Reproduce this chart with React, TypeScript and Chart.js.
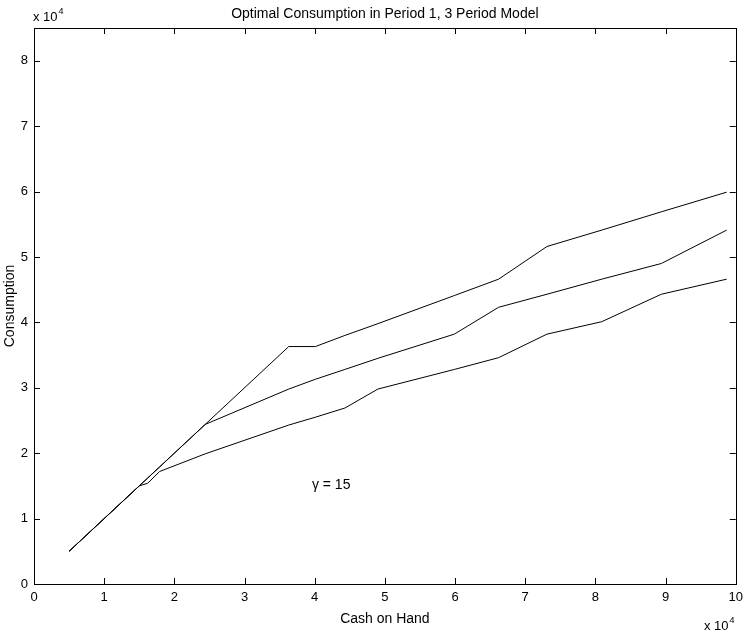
import React, { useEffect, useRef } from "react";
import { Chart, registerables } from "chart.js";

Chart.register(...registerables);

// Cash on hand grid (x 10^4)
const cashOnHand = [0.5, 1.5, 1.62, 1.79, 2.44, 3.63, 4.01, 4.43, 4.9, 5.99, 6.62, 7.31, 8.09, 8.94, 9.87];
// Consumption (x 10^4) for three curves
const consumptionTop = [0.5, 1.5, 1.62, 1.79, 2.44, 3.63, 3.63, 3.8, 3.98, 4.41, 4.66, 5.16, 5.41, 5.69, 5.99];
const consumptionMid = [0.5, 1.5, 1.62, 1.79, 2.44, 2.98, 3.13, 3.28, 3.45, 3.82, 4.23, 4.43, 4.66, 4.9, 5.41];
const consumptionLow = [0.5, 1.5, 1.54, 1.72, 1.99, 2.43, 2.55, 2.69, 2.98, 3.28, 3.46, 3.82, 4.01, 4.43, 4.66];

const xTicks = [0, 1, 2, 3, 4, 5, 6, 7, 8, 9, 10];
const yTicks = [0, 1, 2, 3, 4, 5, 6, 7, 8];

const titleText = "Optimal Consumption in Period 1, 3 Period Model";
const xLabel = "Cash on Hand";
const yLabel = "Consumption";
const annotationText = "\u03b3 = 15";
const annotationPos = { x: 3.96, y: 1.45 };

const FONT = "'Liberation Sans', Arial, Helvetica, sans-serif";

const toPoints = (ys: number[]) => cashOnHand.map((x, i) => ({ x, y: ys[i] }));

const drawExponent = (ctx: any, x: number, y: number) => {
  ctx.font = `13px ${FONT}`;
  ctx.fillText("x 10", x, y);
  const w = ctx.measureText("x 10").width;
  ctx.font = `9px ${FONT}`;
  ctx.fillText("4", x + w + 1, y - 7);
};

const decorPlugin = {
  id: "decor",
  afterDraw(chart: any) {
    const { ctx, chartArea } = chart;
    const xs = chart.scales.x;
    const ys = chart.scales.y;
    const { left, right, top, bottom } = chartArea;
    ctx.save();
    ctx.strokeStyle = "#000";
    ctx.lineWidth = 1;
    // box
    ctx.strokeRect(Math.round(left) + 0.5, Math.round(top) + 0.5, Math.round(right - left), Math.round(bottom - top));
    // inward ticks
    const tl = 6;
    ctx.beginPath();
    xTicks.forEach((v) => {
      const px = Math.round(xs.getPixelForValue(v)) + 0.5;
      ctx.moveTo(px, bottom);
      ctx.lineTo(px, bottom - tl);
      ctx.moveTo(px, top);
      ctx.lineTo(px, top + tl);
    });
    yTicks.forEach((v) => {
      const py = Math.round(ys.getPixelForValue(v)) + 0.5;
      ctx.moveTo(left, py);
      ctx.lineTo(left + tl, py);
      ctx.moveTo(right, py);
      ctx.lineTo(right - tl, py);
    });
    ctx.stroke();

    ctx.fillStyle = "#000";
    // title
    ctx.font = `14px ${FONT}`;
    ctx.textAlign = "center";
    ctx.textBaseline = "alphabetic";
    ctx.fillText(titleText, (left + right) / 2, 18);
    // x label
    ctx.fillText(xLabel, (left + right) / 2, 623);
    // y label
    ctx.save();
    ctx.translate(14, (top + bottom) / 2);
    ctx.rotate(-Math.PI / 2);
    ctx.fillText(yLabel, 0, 0);
    ctx.restore();
    // exponent labels
    ctx.textAlign = "left";
    drawExponent(ctx, 33, 21);
    drawExponent(ctx, 704, 630);
    // annotation
    ctx.font = `14px ${FONT}`;
    ctx.fillText(annotationText, xs.getPixelForValue(annotationPos.x), ys.getPixelForValue(annotationPos.y));
    ctx.restore();
  },
};

export default function App() {
  const ref = useRef<HTMLCanvasElement | null>(null);
  useEffect(() => {
    if (!ref.current) return;
    const lineStyle = { borderColor: "#000", borderWidth: 1, pointRadius: 0, tension: 0, fill: false };
    const chart = new Chart(ref.current, {
      type: "line",
      data: {
        datasets: [
          { label: "top", data: toPoints(consumptionTop), ...lineStyle },
          { label: "mid", data: toPoints(consumptionMid), ...lineStyle },
          { label: "low", data: toPoints(consumptionLow), ...lineStyle },
        ],
      },
      options: {
        animation: false,
        responsive: false,
        maintainAspectRatio: false,
        layout: { padding: { top: 28, right: 10, left: 0, bottom: 0 } },
        plugins: { legend: { display: false }, tooltip: { enabled: false }, title: { display: false } },
        scales: {
          x: {
            type: "linear",
            min: 0,
            max: 10,
            afterFit: (s: any) => { s.height = 51; },
            afterBuildTicks: (s: any) => { s.ticks = xTicks.map((v) => ({ value: v })); },
            grid: { display: false, drawTicks: false },
            border: { display: false },
            ticks: { color: "#000", padding: 6, font: { family: FONT, size: 13 }, maxRotation: 0 },
          },
          y: {
            type: "linear",
            min: 0,
            max: 8.5,
            afterFit: (s: any) => { s.width = 34; },
            afterBuildTicks: (s: any) => { s.ticks = yTicks.map((v) => ({ value: v })); },
            grid: { display: false, drawTicks: false },
            border: { display: false },
            ticks: { color: "#000", padding: 6, font: { family: FONT, size: 13 } },
          },
        },
      },
      plugins: [decorPlugin],
    });
    return () => chart.destroy();
  }, []);
  return (
    <div style={{ position: "fixed", left: 0, top: 0, width: 749, height: 635, background: "#fff" }}>
      <canvas ref={ref} width={749} height={635} style={{ width: 749, height: 635, display: "block" }} />
    </div>
  );
}
